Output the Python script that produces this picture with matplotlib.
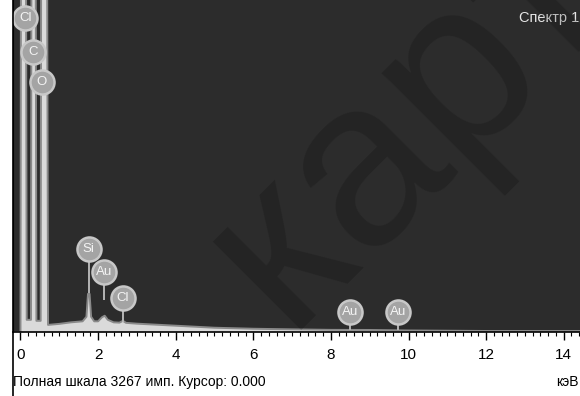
import matplotlib
matplotlib.use("Agg")
import matplotlib.pyplot as plt
from matplotlib.lines import Line2D

# ---- data (energy keV, counts) ----
energy = [-0.25, 0.0, 0.02, 0.13, 0.16, 0.27, 0.29, 0.38, 0.41, 0.52, 0.54, 0.67, 0.71,
          1.0, 1.3, 1.6, 1.70, 1.74, 1.78, 1.82, 1.9, 2.0, 2.1, 2.17, 2.25, 2.4, 2.55, 2.64,
          2.72, 3.0, 3.5, 4.0, 5.0, 6.0, 7.0, 8.0, 9.0, 10.0, 12.0, 14.6]
counts = [0, 0, 6000, 6000, 120, 120, 6000, 6000, 110, 110, 6000, 6000, 70,
          80, 95, 105, 150, 375, 375, 150, 105, 105, 145, 160, 120, 95, 92, 110,
          90, 82, 72, 62, 42, 32, 26, 21, 20, 15, 10, 10]

full_scale = 3267
tick_labels = ["0", "2", "4", "6", "8", "10", "12", "14"]
tick_values = [0, 2, 4, 6, 8, 10, 12, 14]

label_names = ["Cl", "C", "O", "Si", "Au", "Cl", "Au", "Au"]
label_energy = [0.12, 0.32, 0.55, 1.76, 2.15, 2.64, 8.49, 9.73]
label_counts = [3090, 2755, 2460, 817, 590, 335, 197, 197]
stem_end = [3090, 2755, 2460, 380, 315, 100, 20, 20]

footer = "Полная шкала 3267 имп. Курсор: 0.000"
unit = "кэВ"
title = "Спектр 1"

plt.rcParams['font.family'] = ['Liberation Sans', 'DejaVu Sans']

W, H = 580, 396
fig = plt.figure(figsize=(W / 100, H / 100), dpi=100)
fig.patch.set_facecolor("white")

ax_left, ax_bottom = 12.5 / W, 64 / H
ax = fig.add_axes([ax_left, ax_bottom, 1 - ax_left, 332 / H])
ax.set_facecolor("#2c2c2c")
ax.set_xlim(-0.206, 14.42)
ax.set_ylim(0, full_scale)

ax.fill_between(energy, counts, 0, color="#dadada", lw=0, zorder=2)
ax.plot(energy, counts, color="#8a8a8a", lw=1.4, zorder=2.5)

# badges
s = 300
for name, e, c, se in zip(label_names, label_energy, label_counts, stem_end):
    if se < c:
        ax.vlines(e, se, c, color="#b5b5b5", lw=1.4, zorder=3)
    ax.scatter([e], [c], s=s, marker="o", facecolor="#a4a4a4",
               edgecolor="#c8c8c8", linewidth=1.8, zorder=4, clip_on=False)
    ax.text(e, c, name, color="#f4f4f4", fontsize=9.5, ha="center",
            va="center", zorder=5)

# axis styling
for sp in ["top", "right"]:
    ax.spines[sp].set_visible(False)
ax.spines["left"].set_color("black")
ax.spines["bottom"].set_color("black")
ax.spines["bottom"].set_linewidth(1.2)
ax.set_yticks([])
ax.set_xticks(tick_values)
ax.set_xticklabels(tick_labels)
ax.set_xticks([v / 5 for v in range(0, 73)], minor=True)
ax.tick_params(axis="x", which="major", direction="out", length=5.5, width=1,
               pad=6, labelsize=11, colors="black")
ax.tick_params(axis="x", which="minor", direction="out", length=3, width=0.8,
               colors="black")

fig.text(579 / W, 1 - 18 / H, title, color="#e6e6e6", fontsize=10.5,
         ha="right", va="center")
fig.text(13 / W, 1 - 382 / H, footer, color="black", fontsize=10,
         ha="left", va="center")
fig.text(579 / W, 1 - 382 / H, unit, color="black", fontsize=10,
         ha="right", va="center")

# left black frame line
fig.add_artist(Line2D([ax_left, ax_left], [0, 1], transform=fig.transFigure,
                      color="black", lw=1.2))

# watermark
fig.text(285 / W, 1 - 330 / H, "карта", rotation=45, rotation_mode="anchor",
         ha="left", va="baseline", fontsize=170, color="black", alpha=0.18,
         zorder=10)

fig.savefig("out.png", dpi=100, facecolor="white")
